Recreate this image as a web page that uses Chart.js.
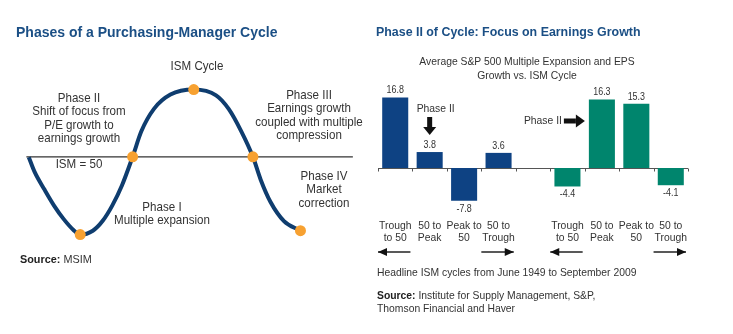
<!DOCTYPE html>
<html>
<head>
<meta charset="utf-8">
<script src="https://cdn.jsdelivr.net/npm/chart.js@4.4.0/dist/chart.umd.min.js"></script>
<style>
  html, body { margin: 0; padding: 0; background: #fff; }
  #page { position: relative; width: 733px; height: 334px; overflow: hidden;
          font-family: 'Liberation Sans', Arial, sans-serif; color: #333; }
  canvas { position: absolute; top: 0; }
  .t { position: absolute; font-size: 12.4px; line-height: 13.4px; white-space: nowrap;
       transform: scaleX(0.935); transform-origin: left top; }
  .c { text-align: center; transform-origin: center top; }
  .r { position: absolute; font-size: 11.5px; line-height: 13px; white-space: nowrap;
       transform: scaleX(0.9); transform-origin: left top; }
  .r.c { transform-origin: center top; }
  .title { position: absolute; font-weight: bold; color: #1b4f85; white-space: nowrap; line-height: 18px;
           transform-origin: left top; }
  b { color: #222; }
</style>
</head>
<body>
<div id="page">
  <canvas id="cycle" width="370" height="334" style="left:0"></canvas>
  <canvas id="bars" width="363" height="334" style="left:370px"></canvas>

  <div class="title" style="left:16px; top:23px; font-size:14px;">Phases of a Purchasing-Manager Cycle</div>
  <div class="title" style="left:376px; top:23px; font-size:13.2px; transform:scaleX(0.94);">Phase II of Cycle: Focus on Earnings Growth</div>

  <div class="t c" style="left:147px; width:100px; top:60px;">ISM Cycle</div>
  <div class="t c" style="left:19px; width:120px; top:92px;">Phase II<br>Shift of focus from<br>P/E growth to<br>earnings growth</div>
  <div class="t c" style="left:244px; width:130px; top:89px;">Phase III<br>Earnings growth<br>coupled with multiple<br>compression</div>
  <div class="t c" style="left:29px; width:100px; top:158px;">ISM = 50</div>
  <div class="t c" style="left:97px; width:130px; top:201px;">Phase I<br>Multiple expansion</div>
  <div class="t c" style="left:274px; width:100px; top:170px;">Phase IV<br>Market<br>correction</div>
  <div class="t" style="left:20px; top:252px; font-size:11.6px;"><b>Source:</b> MSIM</div>

  <div class="r c" style="left:397px; width:260px; top:54px; line-height:14px;">Average S&amp;P 500 Multiple Expansion and EPS<br>Growth vs. ISM Cycle</div>
  <div class="r" style="left:377px; top:266px;">Headline ISM cycles from June 1949 to September 2009</div>
  <div class="r" style="left:377px; top:289px;"><b>Source:</b> Institute for Supply Management, S&amp;P,<br>Thomson Financial and Haver</div>
</div>

<script>
// ISM cycle curve (months into cycle, ISM level)
const cycleMonths = [0, 1.2, 3.2, 5.2, 7.2, 9.2, 10.6, 13.2, 15.2, 17.2, 19.2, 21.4, 23.2, 25.8, 29.2, 34, 38.6, 41.2, 43.8, 46.2, 47.8, 49.8, 52.6, 56];
const cycleIsm = [49.9, 46.1, 41.6, 37.4, 33.9, 31.1, 29.9, 30.9, 33.4, 37.4, 42.6, 50, 56.6, 62.4, 66.1, 67.4, 65.9, 62.4, 56.6, 50, 44.1, 38.4, 33.4, 30.9];
// trough, crossings, peak, end
const phaseMonths = [10.6, 21.4, 34, 46.2, 56];
const phaseIsm = [29.9, 50, 67.4, 50, 30.9];
const ismNeutral = 50;

// right chart
const phaseLabels = [['Trough', 'to 50'], ['50 to', 'Peak'], ['Peak to', '50'], ['50 to', 'Trough'], '',
                     ['Trough', 'to 50'], ['50 to', 'Peak'], ['Peak to', '50'], ['50 to', 'Trough']];
const multipleExpansion = [16.8, 3.8, -7.8, 3.6];
const epsGrowth = [-4.4, 16.3, 15.3, -4.1];

const NAVY = '#0e4283';
const TEAL = '#00856d';
const FONT = "'Liberation Sans', Arial, sans-serif";

// narrow text on canvas (the original uses a condensed face)
function narrowText(ctx, text, x, y, sx) {
    ctx.save();
    ctx.translate(x, y);
    ctx.scale(sx, 1);
    ctx.fillText(text, 0, 0);
    ctx.restore();
}

// ---------- left: cycle diagram ----------
new Chart(document.getElementById('cycle'), {
    type: 'line',
    data: {
        datasets: [
            {
                data: phaseMonths.map((m, i) => ({ x: m, y: phaseIsm[i] })),
                showLine: false,
                pointRadius: 5.5,
                pointBackgroundColor: '#f7a131',
                pointBorderWidth: 0,
                order: 1
            },
            {
                data: cycleMonths.map((m, i) => ({ x: m, y: cycleIsm[i] })),
                borderColor: '#0f3d6f',
                borderWidth: 4,
                pointRadius: 0,
                cubicInterpolationMode: 'monotone',
                order: 2
            },
            {
                data: [{ x: -0.5, y: ismNeutral }, { x: 66.8, y: ismNeutral }],
                borderColor: '#333',
                borderWidth: 1.2,
                pointRadius: 0,
                order: 3
            }
        ]
    },
    options: {
        responsive: false,
        animation: false,
        layout: { padding: 0 },
        plugins: { legend: { display: false }, tooltip: { enabled: false } },
        scales: {
            x: { type: 'linear', min: -4.8, max: 69.2, display: false },
            y: { min: 5.625, max: 89.125, display: false }
        }
    }
});

// ---------- right: bar chart ----------
const pad = (arr, before, after) => Array(before).fill(null).concat(arr, Array(after).fill(null));

const axisAndLabels = {
    id: 'axisAndLabels',
    beforeDatasetsDraw(chart) {
        const ctx = chart.ctx, area = chart.chartArea;
        const y0 = Math.round(chart.scales.y.getPixelForValue(0)) + 0.5;
        const slot = (area.right - area.left) / phaseLabels.length;
        ctx.save();
        ctx.strokeStyle = '#555';
        ctx.lineWidth = 1;
        ctx.beginPath();
        ctx.moveTo(area.left, y0);
        ctx.lineTo(area.right, y0);
        for (let i = 0; i <= phaseLabels.length; i++) {
            const x = Math.round(area.left + i * slot) + 0.5;
            ctx.moveTo(x, y0);
            ctx.lineTo(x, y0 + 3);
        }
        ctx.stroke();
        ctx.restore();
    },
    afterDatasetsDraw(chart) {
        const ctx = chart.ctx, area = chart.chartArea;
        const xs = chart.scales.x;
        ctx.save();
        ctx.fillStyle = '#333';
        ctx.textAlign = 'center';
        ctx.textBaseline = 'middle';

        // bar values
        ctx.font = '10.5px ' + FONT;
        chart.data.datasets.forEach((ds, di) => {
            chart.getDatasetMeta(di).data.forEach((bar, i) => {
                const v = ds.data[i];
                if (v === null) return;
                narrowText(ctx, v.toFixed(1), bar.x, v >= 0 ? bar.y - 7 : bar.y + 8, 0.85);
            });
        });

        // category labels
        ctx.font = '11.5px ' + FONT;
        phaseLabels.forEach((lab, i) => {
            const x = xs.getPixelForValue(i);
            [].concat(lab).forEach((line, k) => narrowText(ctx, line, x, area.bottom + 16 + k * 11.5, 0.9));
        });

        // direction arrows under the category labels
        const slot = (area.right - area.left) / phaseLabels.length;
        const ya = area.bottom + 42;
        const arrow = (i, dir) => {
            const x1 = area.left + i * slot, x2 = x1 + slot - 2;
            const tip = dir < 0 ? x1 : x2;
            ctx.strokeStyle = '#222';
            ctx.lineWidth = 1.3;
            ctx.beginPath();
            ctx.moveTo(x1, ya); ctx.lineTo(x2, ya); ctx.stroke();
            ctx.fillStyle = '#111';
            ctx.beginPath();
            ctx.moveTo(tip, ya);
            ctx.lineTo(tip - dir * 9, ya - 4);
            ctx.lineTo(tip - dir * 9, ya + 4);
            ctx.closePath(); ctx.fill();
        };
        arrow(0, -1); arrow(3, 1); arrow(5, -1); arrow(8, 1);

        // "Phase II" pointers
        const b1 = chart.getDatasetMeta(0).data[1];
        const b6 = chart.getDatasetMeta(1).data[6];
        ctx.fillStyle = '#333';
        ctx.textAlign = 'left';
        narrowText(ctx, 'Phase II', b1.x - 13, 109, 0.9);
        ctx.fillStyle = '#111';
        ctx.fillRect(b1.x - 2.5, 117, 5, 10);
        ctx.beginPath();
        ctx.moveTo(b1.x - 6.5, 127); ctx.lineTo(b1.x + 6.5, 127); ctx.lineTo(b1.x, 135);
        ctx.closePath(); ctx.fill();

        const ax = b6.x - 17;
        ctx.fillStyle = '#333';
        ctx.textAlign = 'right';
        narrowText(ctx, 'Phase II', ax - 23, 121, 0.9);
        ctx.fillStyle = '#111';
        ctx.fillRect(ax - 21, 118.5, 12, 5);
        ctx.beginPath();
        ctx.moveTo(ax - 9, 114.5); ctx.lineTo(ax - 9, 127.5); ctx.lineTo(ax, 121);
        ctx.closePath(); ctx.fill();
        ctx.restore();
    }
};

new Chart(document.getElementById('bars'), {
    type: 'bar',
    data: {
        labels: phaseLabels,
        datasets: [
            { data: pad(multipleExpansion, 0, 5), backgroundColor: NAVY, grouped: false,
              categoryPercentage: 1, barPercentage: 0.756 },
            { data: pad(epsGrowth, 5, 0), backgroundColor: TEAL, grouped: false,
              categoryPercentage: 1, barPercentage: 0.756 }
        ]
    },
    options: {
        responsive: false,
        animation: false,
        layout: { padding: { left: 8, right: 45, top: 84, bottom: 124 } },
        plugins: { legend: { display: false }, tooltip: { enabled: false } },
        scales: {
            x: { display: false },
            y: { min: -10, max: 20, display: false }
        }
    },
    plugins: [axisAndLabels]
});
</script>
</body>
</html>
